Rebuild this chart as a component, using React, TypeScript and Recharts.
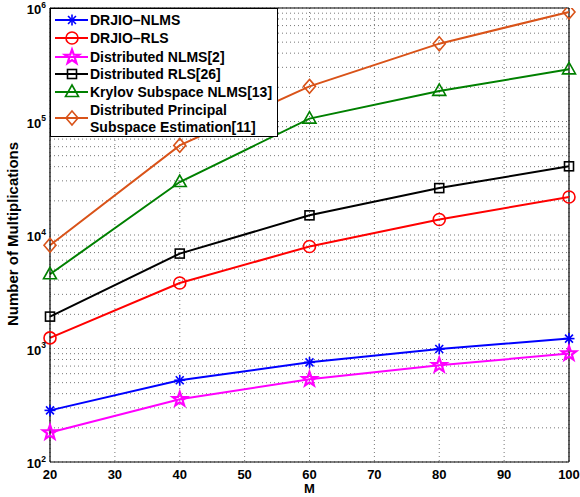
import React from 'react';
import { LineChart, Line, XAxis, YAxis, CartesianGrid, ReferenceLine } from 'recharts';

const M = [20, 40, 60, 80, 100];
const drjioNlms = [285, 525, 755, 990, 1222];
const drjioRls = [1240, 3780, 7920, 13700, 21600];
const distNlms = [182, 357, 535, 711, 902];
const distRls = [1910, 6860, 14900, 25900, 40300];
const krylov = [4510, 29300, 106000, 186000, 288000];
const dpse = [8110, 61600, 204000, 485000, 922000];

const xTicks = [20, 30, 40, 50, 60, 70, 80, 90, 100];
const yDecades = [100, 1000, 10000, 100000, 1000000];
const minorMultipliers = [2, 3, 4, 5, 6, 7, 8, 9];

const FONT = '"Liberation Sans", Arial, Helvetica, sans-serif';

type MarkerType = 'asterisk' | 'circle' | 'pentagram' | 'square' | 'triangle' | 'diamond';

const series: { key: string; name: string[]; color: string; marker: MarkerType; values: number[] }[] = [
  { key: 'drjioNlms', name: ['DRJIO\u2013NLMS'], color: '#0000FF', marker: 'asterisk', values: drjioNlms },
  { key: 'drjioRls', name: ['DRJIO\u2013RLS'], color: '#FF0000', marker: 'circle', values: drjioRls },
  { key: 'distNlms', name: ['Distributed NLMS[2]'], color: '#FF00FF', marker: 'pentagram', values: distNlms },
  { key: 'distRls', name: ['Distributed RLS[26]'], color: '#000000', marker: 'square', values: distRls },
  { key: 'krylov', name: ['Krylov Subspace NLMS[13]'], color: '#008000', marker: 'triangle', values: krylov },
  { key: 'dpse', name: ['Distributed Principal', 'Subspace Estimation[11]'], color: '#D95319', marker: 'diamond', values: dpse },
];

const data = M.map((m, i) => {
  const row: Record<string, number> = { M: m };
  series.forEach((s) => {
    row[s.key] = s.values[i];
  });
  return row;
});

const yTicks: number[] = [];
yDecades.forEach((d, i) => {
  yTicks.push(d);
  if (i < yDecades.length - 1) minorMultipliers.forEach((k) => yTicks.push(k * d));
});

function Marker({ type, cx, cy, color }: { type: MarkerType; cx: number; cy: number; color: string }) {
  const sw = 1.6;
  switch (type) {
    case 'asterisk': {
      const r = 5.5;
      const d = r * 0.72;
      return (
        <g stroke={color} strokeWidth={sw}>
          <line x1={cx - r} y1={cy} x2={cx + r} y2={cy} />
          <line x1={cx} y1={cy - r} x2={cx} y2={cy + r} />
          <line x1={cx - d} y1={cy - d} x2={cx + d} y2={cy + d} />
          <line x1={cx - d} y1={cy + d} x2={cx + d} y2={cy - d} />
        </g>
      );
    }
    case 'circle':
      return <circle cx={cx} cy={cy} r={6} fill="none" stroke={color} strokeWidth={sw} />;
    case 'pentagram': {
      const pts: string[] = [];
      for (let i = 0; i < 10; i++) {
        const r = i % 2 === 0 ? 7.5 : 3;
        const a = -Math.PI / 2 + (i * Math.PI) / 5;
        pts.push(`${cx + r * Math.cos(a)},${cy + r * Math.sin(a)}`);
      }
      return <polygon points={pts.join(' ')} fill="none" stroke={color} strokeWidth={2.2} strokeLinejoin="miter" />;
    }
    case 'square':
      return <rect x={cx - 4.5} y={cy - 4.5} width={9} height={9} fill="none" stroke={color} strokeWidth={sw} />;
    case 'triangle':
      return (
        <polygon
          points={`${cx},${cy - 7} ${cx - 6.5},${cy + 4.5} ${cx + 6.5},${cy + 4.5}`}
          fill="none"
          stroke={color}
          strokeWidth={sw}
        />
      );
    case 'diamond':
      return (
        <polygon
          points={`${cx},${cy - 7} ${cx + 6},${cy} ${cx},${cy + 7} ${cx - 6},${cy}`}
          fill="none"
          stroke={color}
          strokeWidth={sw}
        />
      );
    default:
      return null;
  }
}

function YTick(props: any) {
  const { x, y, payload } = props;
  const v = payload.value as number;
  const e = Math.round(Math.log10(v));
  if (Math.abs(v - Math.pow(10, e)) > 1e-6 * v) return <g />;
  return (
    <text x={x} y={y + 6} textAnchor="end" fontFamily={FONT} fontWeight="bold" fontSize={13} fill="#000">
      <tspan>10</tspan>
      <tspan dy={-6.5} fontSize={8.5}>
        {e}
      </tspan>
    </text>
  );
}

function YLabel(props: any) {
  const vb = props.viewBox || { x: 0, y: 8, width: 50, height: 454 };
  const cx = 12;
  const cy = vb.y + vb.height / 2 - 1;
  return (
    <text
      x={cx}
      y={cy}
      transform={`rotate(-90, ${cx}, ${cy})`}
      textAnchor="middle"
      dominantBaseline="central"
      fontFamily={FONT}
      fontWeight="bold"
      fontSize={15}
      fill="#000"
    >
      Number of Multiplications
    </text>
  );
}

function LegendBox() {
  const rows: { s: (typeof series)[number]; ys: number[]; my: number }[] = [];
  const rowYs = [12, 30, 49, 66, 84];
  series.forEach((s, i) => {
    if (i < 5) rows.push({ s, ys: [rowYs[i]], my: rowYs[i] });
    else rows.push({ s, ys: [102, 119], my: 110 });
  });
  return (
    <div style={{ position: 'absolute', left: 50, top: 8, width: 228, height: 129, pointerEvents: 'none' }}>
      <svg width={228} height={129}>
        <rect x={0.5} y={0.5} width={227} height={128} fill="#fff" stroke="#000" strokeWidth={1} />
        {rows.map(({ s, ys, my }) => (
          <g key={s.key}>
            <line x1={5} y1={my} x2={38} y2={my} stroke={s.color} strokeWidth={2} />
            <Marker type={s.marker} cx={22} cy={my} color={s.color} />
            {s.name.map((t, j) => (
              <text
                key={j}
                x={40}
                y={ys[j]}
                dominantBaseline="central"
                fontFamily={FONT}
                fontWeight="bold"
                fontSize={14}
                fill="#000"
              >
                {t}
              </text>
            ))}
          </g>
        ))}
      </svg>
    </div>
  );
}

export default function App() {
  return (
    <div style={{ position: 'absolute', left: 0, top: 0, width: 580, height: 497, background: '#fff' }}>
      <LineChart width={580} height={497} data={data} margin={{ top: 8, right: 11, bottom: 0, left: 0 }}>
        <CartesianGrid stroke="#777" strokeDasharray="1 3" strokeWidth={1} />
        <XAxis
          dataKey="M"
          type="number"
          domain={[20, 100]}
          ticks={xTicks}
          height={35}
          tickSize={0}
          tickMargin={8}
          tickLine={false}
          axisLine={{ stroke: '#000', strokeWidth: 1.2 }}
          tick={{ fill: '#000', fontSize: 13, fontWeight: 'bold', fontFamily: FONT }}
          label={{
            value: 'M',
            position: 'insideBottom',
            offset: 4,
            style: { fill: '#000', fontSize: 13, fontWeight: 'bold', fontFamily: FONT },
          }}
        />
        <YAxis
          type="number"
          scale="log"
          domain={[100, 1000000]}
          allowDataOverflow
          ticks={yTicks}
          interval={0}
          width={50}
          tickSize={0}
          tickMargin={4}
          tickLine={false}
          axisLine={{ stroke: '#000', strokeWidth: 1.2 }}
          tick={<YTick />}
          label={{ content: <YLabel /> }}
        />
        <ReferenceLine y={1000000} stroke="#000" strokeWidth={1.2} />
        <ReferenceLine x={100} stroke="#000" strokeWidth={1.2} />
        {series.map((s) => (
          <Line
            key={s.key}
            dataKey={s.key}
            stroke={s.color}
            strokeWidth={2}
            isAnimationActive={false}
            activeDot={false}
            dot={(p: any) => <Marker key={`${s.key}-${p.index}`} type={s.marker} cx={p.cx} cy={p.cy} color={s.color} />}
          />
        ))}
      </LineChart>
      <LegendBox />
    </div>
  );
}
